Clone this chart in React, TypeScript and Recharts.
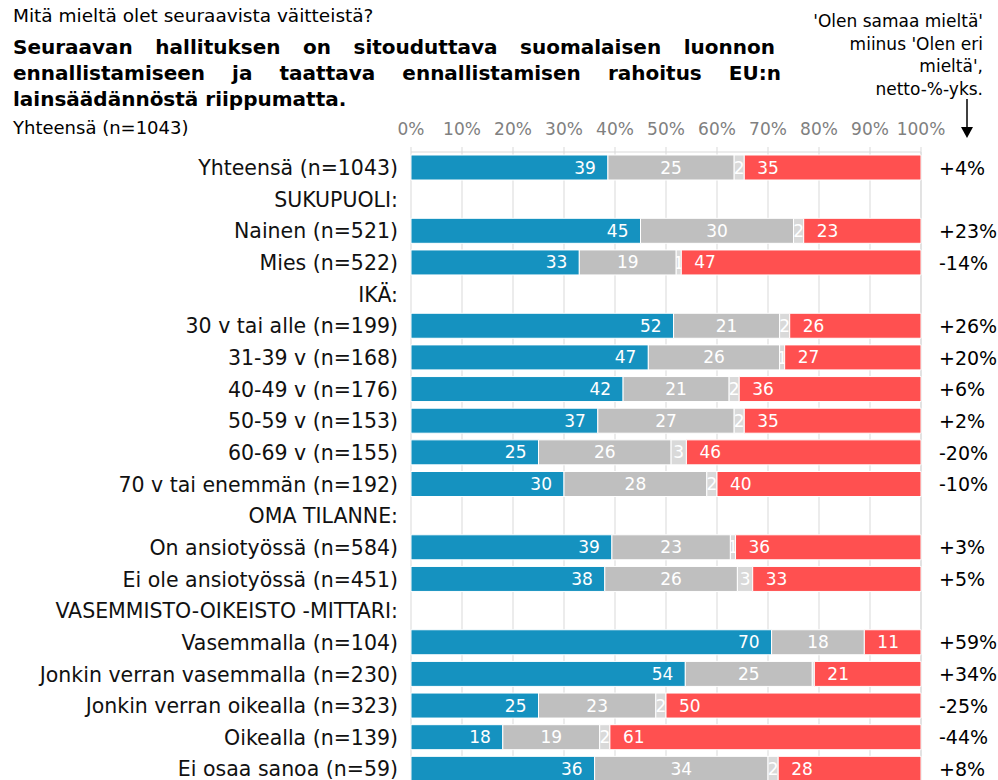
import React from 'react';
import { BarChart, Bar, XAxis, YAxis, CartesianGrid, LabelList } from 'recharts';

const categories = [
  'Yhteensä (n=1043)', 'SUKUPUOLI:', 'Nainen (n=521)', 'Mies (n=522)', 'IKÄ:',
  '30 v tai alle (n=199)', '31-39 v (n=168)', '40-49 v (n=176)', '50-59 v (n=153)',
  '60-69 v (n=155)', '70 v tai enemmän (n=192)', 'OMA TILANNE:', 'On ansiotyössä (n=584)',
  'Ei ole ansiotyössä (n=451)', 'VASEMMISTO-OIKEISTO -MITTARI:', 'Vasemmalla (n=104)',
  'Jonkin verran vasemmalla (n=230)', 'Jonkin verran oikealla (n=323)', 'Oikealla (n=139)',
  'Ei osaa sanoa (n=59)',
];
const agree = [39, null, 45, 33, null, 52, 47, 42, 37, 25, 30, null, 39, 38, null, 70, 54, 25, 18, 36];
const neutral = [25, null, 30, 19, null, 21, 26, 21, 27, 26, 28, null, 23, 26, null, 18, 25, 23, 19, 34];
const dontKnow = [2, null, 2, 1, null, 2, 1, 2, 2, 3, 2, null, 1, 3, null, 0, 0.4, 2, 2, 2];
const disagree = [35, null, 23, 47, null, 26, 27, 36, 35, 46, 40, null, 36, 33, null, 11, 21, 50, 61, 28];
const netLabels = ['+4%', '', '+23%', '-14%', '', '+26%', '+20%', '+6%', '+2%', '-20%', '-10%', '', '+3%', '+5%', '', '+59%', '+34%', '-25%', '-44%', '+8%'];
const xTicks = [0, 10, 20, 30, 40, 50, 60, 70, 80, 90, 100];

const data = categories.map((name, i) => {
  const a = agree[i], n = neutral[i], d = dontKnow[i], r = disagree[i];
  if (a === null) return { name };
  const s = (a as number) + (n as number) + (d as number) + (r as number);
  return {
    name,
    a, n, d, r,
    aW: (a as number) / s * 100,
    nW: (n as number) / s * 100,
    dW: (d as number) / s * 100,
    rW: (r as number) / s * 100,
  };
});

const FONT = '"DejaVu Sans", Verdana, sans-serif';
const LABEL_SIZE = 17;

const fmt = (v: any) => (v === null || v === undefined || Math.round(v) === 0 ? '' : String(Math.round(v)));

const ClippedLabel = (props: any) => {
  const { x, y, width, height, value, index } = props;
  if (value === null || value === undefined || Math.round(value) === 0 || !width) return null;
  const id = `clipd${index}`;
  return (
    <g>
      <defs>
        <clipPath id={id}>
          <rect x={x} y={y} width={width} height={height} />
        </clipPath>
      </defs>
      <text x={x + width / 2} y={y + height / 2} dy="0.36em" textAnchor="middle" fill="#fff" fontSize={LABEL_SIZE} clipPath={`url(#${id})`}>
        {Math.round(value)}
      </text>
    </g>
  );
};

const NetTick = (props: any) => {
  const { x, y, payload } = props;
  const i = categories.indexOf(payload.value);
  return (
    <text x={x} y={y} dy="0.36em" textAnchor="start" fill="#000" fontSize={19}>
      {i >= 0 ? netLabels[i] : ''}
    </text>
  );
};

export default function App() {
  return (
    <div style={{ position: 'absolute', left: 0, top: 0, width: 998, height: 780, overflow: 'hidden', background: '#fff', fontFamily: FONT, color: '#000' }}>
      <div style={{ position: 'absolute', left: 13, top: 3, fontSize: 18.5, lineHeight: '26px', whiteSpace: 'nowrap' }}>
        Mitä mieltä olet seuraavista väitteistä?
      </div>
      <div style={{ position: 'absolute', left: 13, top: 34, width: 762, fontSize: 20, fontWeight: 'bold', lineHeight: '26px', textAlign: 'justify', textAlignLast: 'justify', whiteSpace: 'nowrap' }}>
        Seuraavan hallituksen on sitouduttava suomalaisen luonnon
      </div>
      <div style={{ position: 'absolute', left: 13, top: 60, width: 768, fontSize: 20, fontWeight: 'bold', lineHeight: '26px', textAlign: 'justify', textAlignLast: 'justify', whiteSpace: 'nowrap' }}>
        ennallistamiseen ja taattava ennallistamisen rahoitus EU:n
      </div>
      <div style={{ position: 'absolute', left: 13, top: 86, fontSize: 20, fontWeight: 'bold', lineHeight: '26px', whiteSpace: 'nowrap' }}>
        lainsäädännöstä riippumatta.
      </div>
      <div style={{ position: 'absolute', left: 13, top: 115, fontSize: 18, lineHeight: '26px', whiteSpace: 'nowrap' }}>
        Yhteensä (n=1043)
      </div>
      <div style={{ position: 'absolute', right: 15, top: 10, fontSize: 17, lineHeight: '22.5px', textAlign: 'right', whiteSpace: 'nowrap' }}>
        'Olen samaa mieltä'<br />miinus 'Olen eri<br />mieltä',<br />netto-%-yks.
      </div>
      <svg style={{ position: 'absolute', left: 0, top: 0 }} width={998} height={150}>
        <line x1={967} y1={99} x2={967} y2={129} stroke="#000" strokeWidth={1.5} />
        <polygon points="961,127 973,127 967,138" fill="#000" />
      </svg>
      <div style={{ position: 'absolute', left: 0, top: 0 }}>
        <BarChart
          width={998}
          height={800}
          data={data}
          layout="vertical"
          margin={{ top: 0, right: 0, bottom: 15, left: 0 }}
          barCategoryGap={0}
          barSize={25}
        >
          <CartesianGrid horizontal={false} vertical stroke="#D9D9D9" yAxisId="left" />
          <XAxis
            type="number"
            orientation="top"
            domain={[0, 100]}
            ticks={xTicks}
            height={152}
            tickFormatter={(v: number) => `${v}%`}
            tick={{ fill: '#808080', fontSize: 17 }}
            tickSize={5}
            tickMargin={12}
            stroke="#D9D9D9"
            interval={0}
          />
          <YAxis
            yAxisId="left"
            type="category"
            dataKey="name"
            width={411}
            tickSize={0}
            tickMargin={13}
            axisLine={false}
            tickLine={false}
            interval={0}
            tick={{ fill: '#111', fontSize: 20.5 }}
          />
          <YAxis
            yAxisId="right"
            orientation="right"
            type="category"
            dataKey="name"
            width={77}
            tickSize={0}
            tickMargin={18}
            axisLine={false}
            tickLine={false}
            interval={0}
            tick={<NetTick />}
          />
          <Bar dataKey="aW" stackId="s" yAxisId="left" fill="#1592C0" stroke="#fff" strokeWidth={1} isAnimationActive={false}>
            <LabelList dataKey="a" position="insideRight" offset={12} fill="#fff" fontSize={LABEL_SIZE} formatter={fmt} />
          </Bar>
          <Bar dataKey="nW" stackId="s" yAxisId="left" fill="#BFBFBF" stroke="#fff" strokeWidth={1} isAnimationActive={false}>
            <LabelList dataKey="n" position="center" fill="#fff" fontSize={LABEL_SIZE} formatter={fmt} />
          </Bar>
          <Bar dataKey="dW" stackId="s" yAxisId="left" fill="#D9D9D9" stroke="#fff" strokeWidth={1} isAnimationActive={false}>
            <LabelList dataKey="d" content={<ClippedLabel />} />
          </Bar>
          <Bar dataKey="rW" stackId="s" yAxisId="left" fill="#FF5050" stroke="#fff" strokeWidth={1} isAnimationActive={false}>
            <LabelList dataKey="r" position="insideLeft" offset={13} fill="#fff" fontSize={LABEL_SIZE} formatter={fmt} />
          </Bar>
        </BarChart>
      </div>
    </div>
  );
}
